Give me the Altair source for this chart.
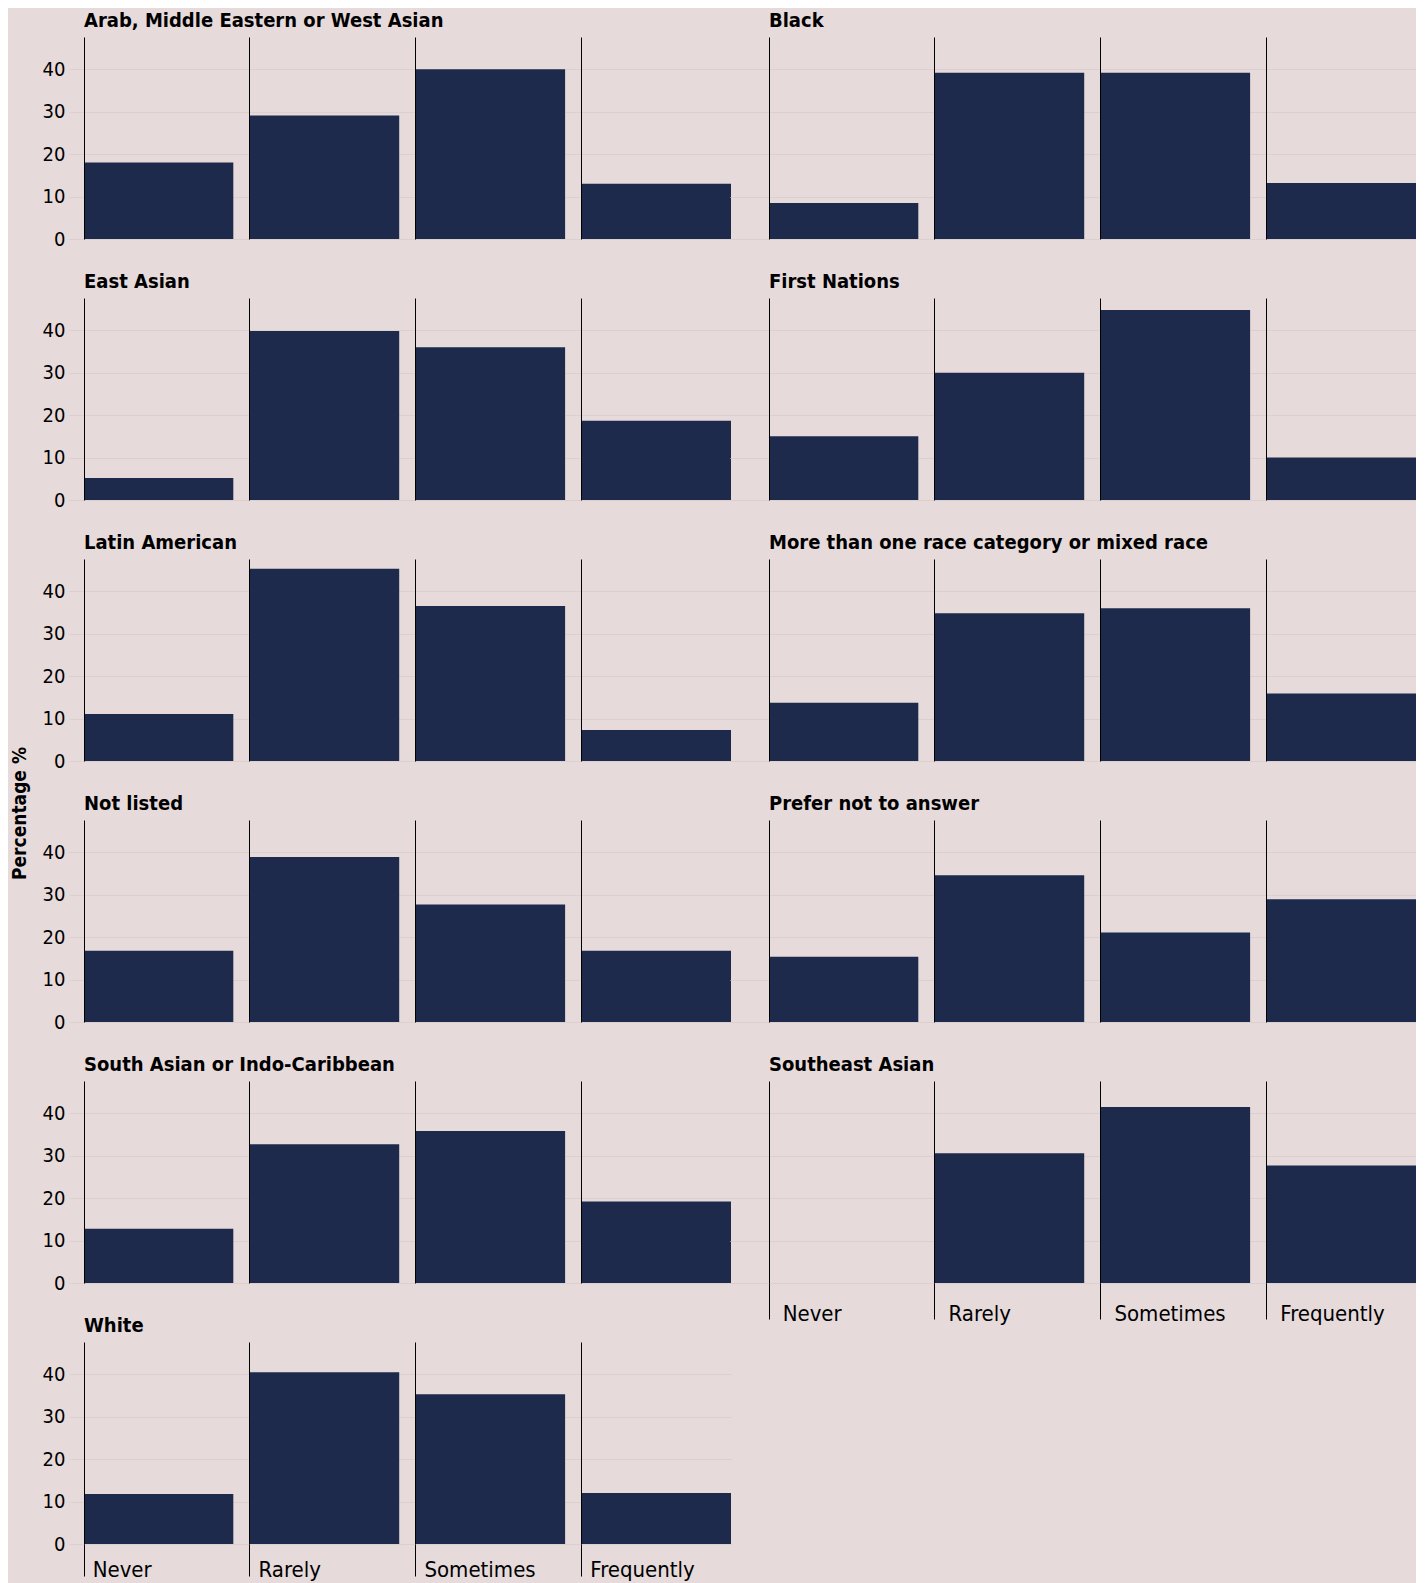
import altair as alt
import pandas as pd

groups = [
    "Arab, Middle Eastern or West Asian",
    "Black",
    "East Asian",
    "First Nations",
    "Latin American",
    "More than one race category or mixed race",
    "Not listed",
    "Prefer not to answer",
    "South Asian or Indo-Caribbean",
    "Southeast Asian",
    "White",
]
frequencies = ["Never", "Rarely", "Sometimes", "Frequently"]
never = [18.0, 8.5, 5.2, 15.0, 11.1, 13.7, 16.8, 15.4, 12.8, 0.0, 11.8]
rarely = [29.1, 39.2, 39.8, 30.0, 45.3, 34.8, 38.9, 34.6, 32.7, 30.6, 40.5]
sometimes = [40.0, 39.2, 36.0, 44.8, 36.5, 36.0, 27.7, 21.1, 35.8, 41.5, 35.3]
frequently = [13.0, 13.2, 18.7, 10.0, 7.3, 15.9, 16.8, 28.9, 19.2, 27.7, 12.0]
labelled_groups = ["Southeast Asian", "White"]

records = []
for i, g in enumerate(groups):
    for f, vals in zip(frequencies, [never, rarely, sometimes, frequently]):
        records.append({"group": g, "freq": f, "pct": vals[i]})
df = pd.DataFrame(records)

FONT = "DejaVu Sans Condensed, Liberation Sans Narrow, Roboto Condensed, Roboto, sans-serif"
BG = "#e6dadb"
BAR = "#1d2a4b"
GRID = "#dccfcf"


def panel(i, g):
    left = i % 2 == 0
    labelled = g in labelled_groups
    # right-column footer sits a little lower / further right, as in the original
    tick_len = 32 if left else 36
    lab_off = -66 if left else -61
    lab_pad = -17 if left else -16
    return alt.Chart(df).transform_filter(alt.datum.group == g).mark_bar(color=BAR).encode(
        x=alt.X(
            "freq:N",
            sort=frequencies,
            title=None,
            scale=alt.Scale(domain=frequencies, paddingInner=0.1, paddingOuter=0),
            axis=alt.Axis(
                bandPosition=0,
                grid=True,
                gridColor="black",
                gridWidth=1,
                ticks=labelled,
                tickSize=tick_len,
                tickColor="black",
                tickWidth=1,
                domain=False,
                labels=labelled,
                labelAlign="left",
                labelBaseline="top",
                labelOffset=lab_off,
                labelPadding=lab_pad,
                labelAngle=0,
                labelFontSize=22,
                labelColor="black",
                labelFont=FONT,
                zindex=1,
            ),
        ),
        y=alt.Y(
            "pct:Q",
            title=None,
            scale=alt.Scale(domain=[0, 47.6], nice=False),
            axis=alt.Axis(
                values=[0, 10, 20, 30, 40],
                grid=True,
                gridColor=GRID,
                gridWidth=1,
                tickColor=GRID,
                tickSize=15 if left else 39,
                domain=False,
                labels=left,
                labelFontSize=20,
                labelPadding=4,
                labelColor="black",
                labelFont=FONT,
            ),
        ),
    ).properties(
        width=647,
        height=202,
        title=alt.TitleParams(
            text=g,
            anchor="start",
            frame="group",
            font=FONT,
            fontSize=20,
            fontWeight="bold",
            color="black",
            offset=6,
        ),
    )


panels = [panel(i, g) for i, g in enumerate(groups)]

chart = alt.concat(
    *panels,
    columns=2,
    spacing={"row": 59, "column": 38},
    bounds="flush",
).properties(
    title=alt.TitleParams(
        text="Percentage %",
        orient="left",
        anchor="middle",
        font=FONT,
        fontSize=19,
        fontWeight="bold",
        color="black",
        offset=12,
        dx=-18,
    )
).configure(
    background=BG,
    padding={"left": 3, "top": 3, "right": 0, "bottom": 5},
).configure_view(stroke=None)

chart.save("out.html", embed_options={"renderer": "svg", "actions": False})
